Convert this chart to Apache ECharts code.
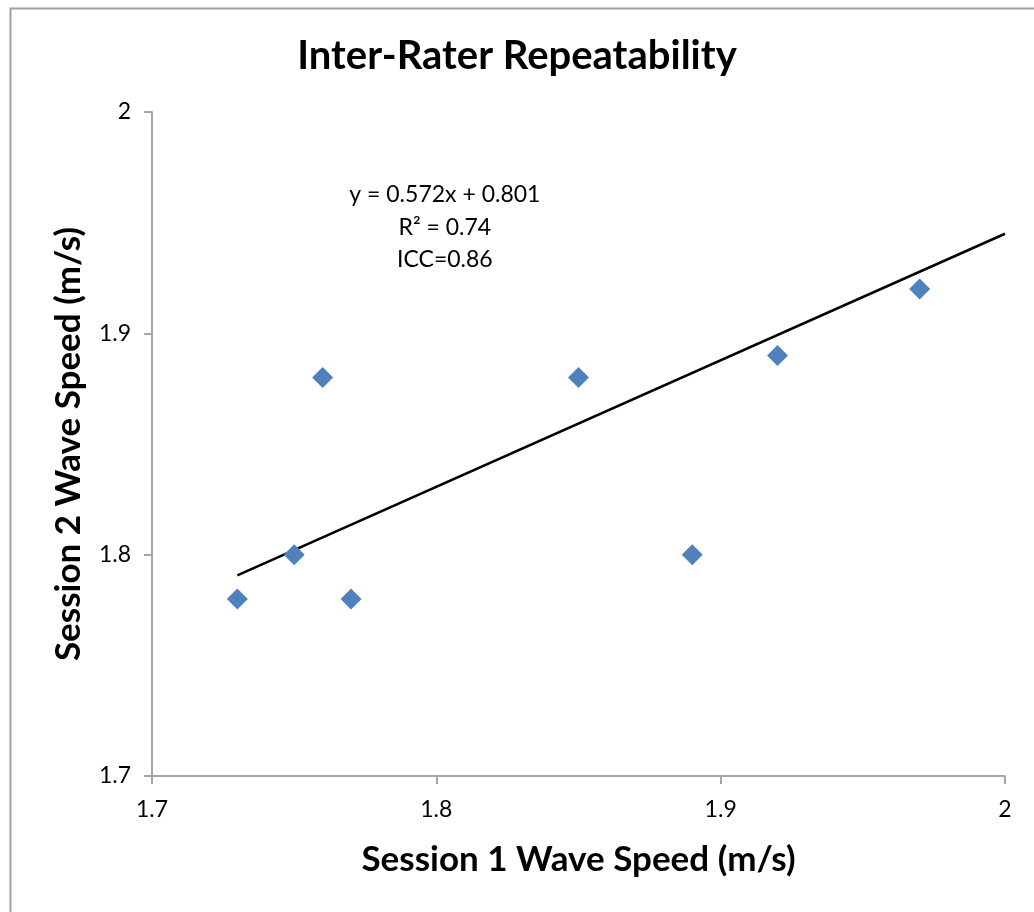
<!DOCTYPE html>
<html>
<head>
<meta charset="utf-8">
<title>Inter-Rater Repeatability</title>
<script src="https://cdn.jsdelivr.net/npm/echarts@6/dist/echarts.min.js"></script>
<style>
  html, body { margin: 0; padding: 0; background: #fff; }
  #main { width: 1034px; height: 912px; }
</style>
</head>
<body>
<div id="main"></div>
<script>
// session 1 vs session 2 wave speeds (m/s)
const session1 = [1.73, 1.75, 1.76, 1.77, 1.85, 1.89, 1.92, 1.97];
const session2 = [1.78, 1.80, 1.88, 1.78, 1.88, 1.80, 1.89, 1.92];
// linear trendline endpoints, y = 0.572x + 0.801
const trendX = [1.73, 2.0];
const trendY = [1.7906, 1.945];
const statLines = ['y = 0.572x + 0.801', 'R² = 0.74', 'ICC=0.86'];

const font = 'Lato, "Open Sans", sans-serif';
const axisGray = '#a6a6a6';

const chart = echarts.init(document.getElementById('main'));

const option = {
  animation: false,
  title: {
    text: 'Inter-Rater Repeatability',
    left: 'center',
    top: 31,
    textStyle: { fontFamily: font, fontSize: 40, fontWeight: 'bold', color: '#000' }
  },
  grid: { left: 152, right: 29, top: 112, bottom: 136 },
  xAxis: {
    type: 'value',
    min: 1.7, max: 2.0, interval: 0.1,
    name: 'Session 1 Wave Speed (m/s)',
    nameLocation: 'middle',
    nameGap: 66,
    nameTextStyle: { fontFamily: font, fontSize: 35, fontWeight: 'bold', color: '#000' },
    axisLine: { onZero: false, lineStyle: { color: axisGray, width: 2 } },
    axisTick: { show: true, inside: false, length: 8, lineStyle: { color: axisGray, width: 2 } },
    axisLabel: { fontFamily: font, fontSize: 23, color: '#000', margin: 22, formatter: v => +v.toFixed(1) + '' },
    splitLine: { show: false }
  },
  yAxis: {
    type: 'value',
    min: 1.7, max: 2.0, interval: 0.1,
    name: 'Session 2 Wave Speed (m/s)',
    nameLocation: 'middle',
    nameGap: 66,
    nameTextStyle: { fontFamily: font, fontSize: 35, fontWeight: 'bold', color: '#000' },
    axisLine: { show: true, onZero: false, lineStyle: { color: axisGray, width: 2 } },
    axisTick: { show: true, inside: false, length: 8, lineStyle: { color: axisGray, width: 2 } },
    axisLabel: { fontFamily: font, fontSize: 23, color: '#000', margin: 21, formatter: v => +v.toFixed(1) + '' },
    splitLine: { show: false }
  },
  graphic: [
    {
      type: 'rect', left: 8, top: 6, z: -1,
      shape: { width: 1040, height: 920 },
      style: { fill: 'none', stroke: '#a0a0a0', lineWidth: 2 }
    }
  ],
  series: [
    {
      type: 'scatter',
      symbol: 'diamond',
      symbolSize: 21,
      itemStyle: { color: '#4f81bd', opacity: 1 },
      data: session1.map((x, i) => [x, session2[i]]),
      z: 3
    },
    {
      type: 'line',
      showSymbol: false,
      lineStyle: { color: '#000', width: 2.5 },
      data: trendX.map((x, i) => [x, trendY[i]]),
      z: 2
    }
  ]
};

chart.setOption(option);

// equation block above the trendline, centred near x = 1.803
const cx = chart.convertToPixel({ xAxisIndex: 0 }, 1.803);
chart.setOption({
  graphic: statLines.map((t, i) => ({
    id: 'stat' + i,
    type: 'text',
    x: cx,
    y: 195 + i * 32.5,
    style: {
      text: t,
      fontFamily: font,
      fontSize: 23,
      fill: '#000',
      align: 'center',
      verticalAlign: 'middle'
    }
  }))
});
</script>
</body>
</html>
